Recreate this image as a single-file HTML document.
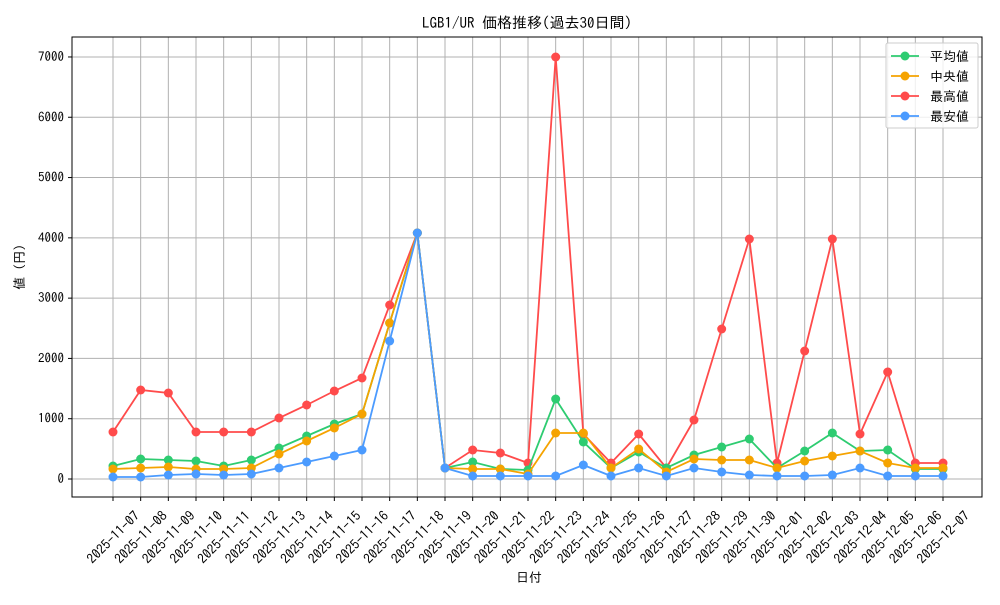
<!DOCTYPE html>
<html><head><meta charset="utf-8"><style>
body{margin:0;background:#fff}
svg text{font-family:"IPAGothic","Liberation Sans","Noto Sans CJK JP",sans-serif;fill:#000}
</style></head><body>
<svg id="s" width="1000" height="600" viewBox="0 0 1000 600" xmlns="http://www.w3.org/2000/svg">
<rect width="1000" height="600" fill="#fff"/>
<g id="grid"></g>
<rect x="72" y="37" width="910" height="460" fill="none" stroke="#000" stroke-width="1"/>
<g id="ticks"></g>
<g id="series"></g>
<text x="527" y="28" font-size="15" text-anchor="middle">LGB1/UR 価格推移(過去30日間)</text>
<text x="529" y="582" font-size="13" text-anchor="middle">日付</text>
<text transform="translate(24,267) rotate(-90)" font-size="13" text-anchor="middle">値 (円)</text>
<g>
<rect x="886" y="43" width="92" height="85" fill="#fff" fill-opacity="0.8" stroke="#ccc" rx="2"/>
<line x1="891" y1="56" x2="919" y2="56" stroke="#2ecc71" stroke-width="1.8"/><circle cx="905" cy="56" r="4.5" fill="#2ecc71"/>
<text x="930" y="61" font-size="13">平均値</text>
<line x1="891" y1="76" x2="919" y2="76" stroke="#f5a300" stroke-width="1.8"/><circle cx="905" cy="76" r="4.5" fill="#f5a300"/>
<text x="930" y="81" font-size="13">中央値</text>
<line x1="891" y1="96" x2="919" y2="96" stroke="#ff4b4b" stroke-width="1.8"/><circle cx="905" cy="96" r="4.5" fill="#ff4b4b"/>
<text x="930" y="101" font-size="13">最高値</text>
<line x1="891" y1="116" x2="919" y2="116" stroke="#4b9bff" stroke-width="1.8"/><circle cx="905" cy="116" r="4.5" fill="#4b9bff"/>
<text x="930" y="121" font-size="13">最安値</text>
</g>
</svg>
<script>
const NS="http://www.w3.org/2000/svg";
function el(t,a,p){const e=document.createElementNS(NS,t);for(const k in a)e.setAttribute(k,a[k]);p.appendChild(e);return e;}
const grid=document.getElementById('grid'),ticks=document.getElementById('ticks'),ser=document.getElementById('series');
const X=i=>113+27.667*i;
const dates=[];
for(let d=7;d<=30;d++)dates.push('2025-11-'+String(d).padStart(2,'0'));
for(let d=1;d<=7;d++)dates.push('2025-12-0'+d);
dates.forEach((d,i)=>{const x=X(i);
el('line',{x1:x,y1:37,x2:x,y2:497,stroke:'#b0b0b0','stroke-width':1},grid);
el('line',{x1:x,y1:497,x2:x,y2:501,stroke:'#000'},ticks);
const t=el('text',{transform:`translate(${x},${537}) rotate(-45)`,'font-size':13.5,'text-anchor':'middle','dominant-baseline':'central'},ticks);t.textContent=d;});
for(let v=0;v<=7000;v+=1000){const y=479-v*0.06029;
el('line',{x1:72,y1:y,x2:982,y2:y,stroke:'#b0b0b0','stroke-width':1},grid);
el('line',{x1:68,y1:y,x2:72,y2:y,stroke:'#000'},ticks);
const t=el('text',{x:64,y:y+4,'font-size':13,'text-anchor':'end'},ticks);t.textContent=v;}
const S=[
['#ff4b4b',[432,390,393,432,432,432,418,405,391,378,305,233,468,450,453,463,57,434,463,434,468,420,329,239,463,351,239,434,372,463,463]],
['#2ecc71',[466,459,460,461,466,460,448,436,424,414,323,233,468,462,469,470,399,442,468,452,468,455,447,439,468,451,433,451,450,469,469]],
['#f5a300',[469,468,467,469,469,468,454,441,428,414,323,233,468,469,469,474,433,433,468,449,472,459,460,460,468,461,456,451,463,468,468]],
['#4b9bff',[477,477,475,474,475,474,468,462,456,450,341,233,468,476,476,476,476,465,476,468,476,468,472,475,476,476,475,468,476,476,476]]];
S.forEach(([c,ys])=>{el('polyline',{points:ys.map((y,i)=>X(i)+','+y).join(' '),fill:'none',stroke:c,'stroke-width':1.8},ser);
ys.forEach((y,i)=>el('circle',{cx:X(i),cy:y,r:4.5,fill:c},ser));});
</script>
</body></html>
